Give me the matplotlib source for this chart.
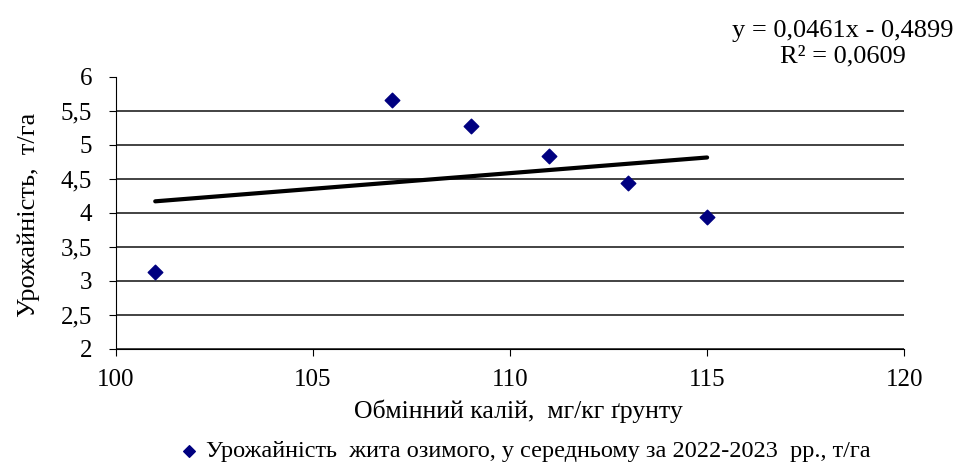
import numpy as np
import matplotlib.pyplot as plt

plt.rcParams['font.family'] = ['Liberation Serif', 'DejaVu Serif']

# Data
potassium = [101, 107, 109, 111, 113, 115]
yield_t = [3.12, 5.66, 5.27, 4.84, 4.44, 3.94]

# Linear trend as shown on the chart
slope = 0.0461
intercept = -0.4899
r2 = 0.0609

x_ticks = [100, 105, 110, 115, 120]
y_ticks = [2, 2.5, 3, 3.5, 4, 4.5, 5, 5.5, 6]

fig = plt.figure(figsize=(9.65, 4.65), dpi=100)
ax = fig.add_axes([0.120, 0.2505, 0.817, 0.5845])

ax.scatter(potassium, yield_t, marker='D', s=55, color='#000080', zorder=3,
           label='Урожайність  жита озимого, у середньому за 2022-2023  рр., т/га')

xt = np.array([min(potassium), max(potassium)])
ax.plot(xt, slope * xt + intercept, color='black', linewidth=3, solid_capstyle='round', zorder=2)

ax.set_xlim(100, 120)
ax.set_ylim(2, 6)
ax.set_xticks(x_ticks)
ax.set_yticks(y_ticks)
ax.set_yticklabels([f'{v:g}'.replace('.', ',') for v in y_ticks])

ax.grid(axis='y', color='#222222', linewidth=1.2)
ax.set_axisbelow(True)
# no gridline at the top value
ax.yaxis.get_gridlines()[-1].set_visible(False)

for s in ['top', 'right']:
    ax.spines[s].set_visible(False)
ax.tick_params(axis='both', direction='out', length=5, labelsize=18, color='black')
ax.tick_params(axis='y', pad=12)
ax.tick_params(axis='x', pad=10)

ax.set_xlabel('Обмінний калій,  мг/кг ґрунту', fontsize=18.5)
ax.xaxis.set_label_coords(0.51, -0.23)
ax.xaxis.label.set_va('center')
ax.set_ylabel('Урожайність,  т/га', fontsize=19)
ax.yaxis.set_label_coords(-0.111, 0.49)
ax.yaxis.label.set_va('center')

fig.text(0.873, 0.905, f'y = {slope:.4f}x - {abs(intercept):.4f}\nR² = {r2:.4f}'.replace('.', ','),
         ha='center', va='center', fontsize=19, linespacing=1.2)

fig.legend(loc='center', bbox_to_anchor=(0.544, 0.03), frameon=False, fontsize=17.5,
           handlelength=0.8, handletextpad=0.3, markerscale=0.8)

fig.savefig('out.png', dpi=100)
